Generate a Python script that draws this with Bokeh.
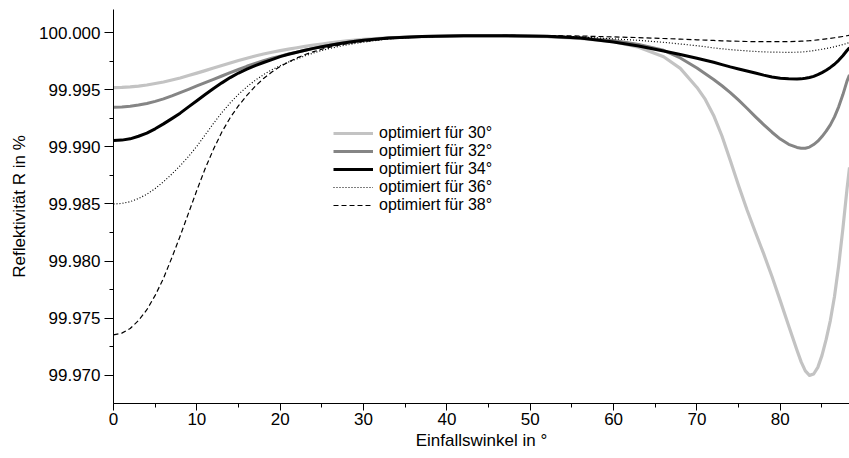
from bokeh.plotting import figure
from bokeh.models import ColumnDataSource, Legend, LegendItem, SingleIntervalTicker, NumeralTickFormatter, Range1d
from bokeh.embed import file_html
from bokeh.resources import INLINE

# Einfallswinkel (degrees)
angle = [0, 1, 2, 3, 4, 5, 6, 7, 8, 9, 10, 11, 12, 13, 14, 15, 16, 17, 18, 19, 20,
         21, 22, 23, 24, 25, 26, 27, 28, 29, 30,
         33, 37, 42, 47, 52, 56, 60, 63, 66, 68,
         70, 71, 72, 73, 74, 75, 76, 77, 78, 79, 80, 81, 82, 82.5, 83, 83.5, 84, 84.5,
         85, 85.5, 86, 86.5, 87, 87.5, 88, 88.3]

r30 = [99.99518, 99.99520, 99.99525, 99.99532, 99.99541, 99.99554, 99.99568, 99.99585, 99.99603, 99.99624,
       99.99645, 99.99667, 99.99690, 99.99712, 99.99734, 99.99756, 99.99776, 99.99795, 99.99812, 99.99828,
       99.99842, 99.99855, 99.99867, 99.99879, 99.99890, 99.99900, 99.99910, 99.99919, 99.99927, 99.99935,
       99.99941,
       99.99955, 99.99965, 99.99970, 99.99970, 99.99965, 99.99950, 99.99920, 99.99872, 99.99788, 99.99687,
       99.99520, 99.99415, 99.99275, 99.99095, 99.98880, 99.98660, 99.98450, 99.98255, 99.98065, 99.97865,
       99.97652, 99.97435, 99.97220, 99.97118, 99.97040, 99.97000, 99.97012, 99.97070,
       99.97175, 99.97315, 99.97480, 99.97690, 99.97960, 99.98280, 99.98630, 99.98820]

r32 = [99.99347, 99.99349, 99.99355, 99.99366, 99.99380, 99.99398, 99.99420, 99.99446, 99.99474, 99.99503,
       99.99533, 99.99562, 99.99591, 99.99620, 99.99649, 99.99677, 99.99705, 99.99730, 99.99754, 99.99775,
       99.99794, 99.99812, 99.99829, 99.99846, 99.99862, 99.99877, 99.99890, 99.99903, 99.99915, 99.99925,
       99.99934,
       99.99952, 99.99965, 99.99972, 99.99972, 99.99966, 99.99952, 99.99930, 99.99895, 99.99845, 99.99778,
       99.99690, 99.99640, 99.99590, 99.99535, 99.99475, 99.99408, 99.99338, 99.99265, 99.99195, 99.99128,
       99.99068, 99.99022, 99.98995, 99.98988, 99.98988, 99.98998, 99.99020, 99.99050,
       99.99090, 99.99137, 99.99192, 99.99262, 99.99350, 99.99455, 99.99575, 99.99630]

r34 = [99.99055, 99.99059, 99.99070, 99.99093, 99.99120, 99.99158, 99.99201, 99.99247, 99.99295, 99.99350,
       99.99404, 99.99458, 99.99511, 99.99560, 99.99606, 99.99646, 99.99680, 99.99711, 99.99738, 99.99764,
       99.99790, 99.99810, 99.99828, 99.99846, 99.99862, 99.99876, 99.99890, 99.99902, 99.99913, 99.99924,
       99.99933,
       99.99952, 99.99966, 99.99973, 99.99973, 99.99968, 99.99952, 99.99918, 99.99882, 99.99838, 99.99808,
       99.99775, 99.99758, 99.99740, 99.99720, 99.99700, 99.99682, 99.99664, 99.99646, 99.99628, 99.99612,
       99.99601, 99.99595, 99.99593, 99.99595, 99.99600, 99.99607, 99.99617, 99.99632,
       99.99650, 99.99671, 99.99695, 99.99723, 99.99757, 99.99797, 99.99843, 99.99868]

r36 = [99.98500, 99.98505, 99.98520, 99.98548, 99.98585, 99.98635, 99.98695, 99.98762, 99.98835, 99.98915,
       99.99005, 99.99105, 99.99205, 99.99300, 99.99385, 99.99460, 99.99525, 99.99582, 99.99632, 99.99675,
       99.99710, 99.99742, 99.99770, 99.99797, 99.99822, 99.99844, 99.99862, 99.99878, 99.99893, 99.99905,
       99.99916,
       99.99945, 99.99963, 99.99972, 99.99974, 99.99972, 99.99962, 99.99945, 99.99932, 99.99915, 99.99900,
       99.99885, 99.99876, 99.99866, 99.99858, 99.99851, 99.99845, 99.99840, 99.99835, 99.99831, 99.99829,
       99.99828, 99.99827, 99.99828, 99.99830, 99.99833, 99.99837, 99.99842, 99.99848,
       99.99854, 99.99861, 99.99868, 99.99876, 99.99885, 99.99895, 99.99906, 99.99912]

r38 = [99.97355, 99.97370, 99.97410, 99.97480, 99.97575, 99.97700, 99.97850, 99.98030, 99.98220, 99.98420,
       99.98620, 99.98810, 99.98980, 99.99130, 99.99255, 99.99360, 99.99450, 99.99530, 99.99598, 99.99655,
       99.99703, 99.99743, 99.99778, 99.99808, 99.99833, 99.99855, 99.99873, 99.99889, 99.99902, 99.99913,
       99.99922,
       99.99947, 99.99963, 99.99972, 99.99975, 99.99974, 99.99970, 99.99962, 99.99956, 99.99948, 99.99943,
       99.99937, 99.99934, 99.99931, 99.99928, 99.99926, 99.99924, 99.99922, 99.99921, 99.99920, 99.99920,
       99.99920, 99.99921, 99.99923, 99.99925, 99.99927, 99.99929, 99.99932, 99.99936,
       99.99940, 99.99945, 99.99950, 99.99955, 99.99960, 99.99966, 99.99972, 99.99976]

series_labels = ["optimiert für 30°", "optimiert für 32°", "optimiert für 34°",
                 "optimiert für 36°", "optimiert für 38°"]

FONT = "Liberation Sans"

p = figure(width=849, height=458,
           x_range=Range1d(0, 88.3), y_range=Range1d(99.96754, 100.00202),
           output_backend="svg", toolbar_location=None,
           min_border_left=113, min_border_right=0, min_border_top=9, min_border_bottom=55,
           x_axis_label="Einfallswinkel in °", y_axis_label="Reflektivität R in %")
p.outline_line_color = None
p.grid.visible = False
p.background_fill_color = "white"
p.border_fill_color = "white"

src = ColumnDataSource(dict(x=angle, r30=r30, r32=r32, r34=r34, r36=r36, r38=r38))

styles = [
    ("r30", "#c3c3c3", 3.2, "solid"),
    ("r32", "#858585", 3.0, "solid"),
    ("r34", "#000000", 3.0, "solid"),
    ("r36", "#000000", 1.2, "1 2"),
    ("r38", "#000000", 1.2, "5 3"),
]
items = []
for (col, color, w, dash), lab in zip(styles, series_labels):
    r = p.line("x", col, source=src, line_color=color, line_width=w, line_dash=dash,
               line_join="round")
    items.append(LegendItem(label=lab, renderers=[r]))

legend = Legend(items=items, location=(220, 189))
legend.label_text_font = FONT
legend.label_text_font_size = "16px"
legend.label_text_color = "black"
legend.glyph_width = 40
legend.glyph_height = 18
legend.label_height = 18
legend.label_standoff = 6
legend.spacing = 0
legend.padding = 0
legend.margin = 0
legend.border_line_color = None
legend.background_fill_alpha = 0
p.add_layout(legend)

xa = p.xaxis[0]
ya = p.yaxis[0]
xa.ticker = SingleIntervalTicker(interval=10, num_minor_ticks=2)
ya.ticker = SingleIntervalTicker(interval=0.005, num_minor_ticks=2)
ya.formatter = NumeralTickFormatter(format="0.000")

for ax in (xa, ya):
    ax.axis_line_color = "black"
    ax.axis_line_width = 1
    ax.major_tick_line_color = "black"
    ax.minor_tick_line_color = "black"
    ax.major_tick_in = 0
    ax.minor_tick_in = 0
    ax.major_label_text_font = FONT
    ax.major_label_text_font_size = "17px"
    ax.major_label_text_color = "black"
    ax.axis_label_text_font = FONT
    ax.axis_label_text_font_size = "17px"
    ax.axis_label_text_font_style = "normal"
    ax.axis_label_text_color = "black"

xa.major_tick_out = 7
xa.minor_tick_out = 4
xa.major_label_standoff = 2
xa.axis_label_standoff = 3
ya.major_tick_out = 9
ya.minor_tick_out = 4
ya.major_label_standoff = 4
ya.axis_label_standoff = 7

open("out.html", "w").write(file_html(p, INLINE))
